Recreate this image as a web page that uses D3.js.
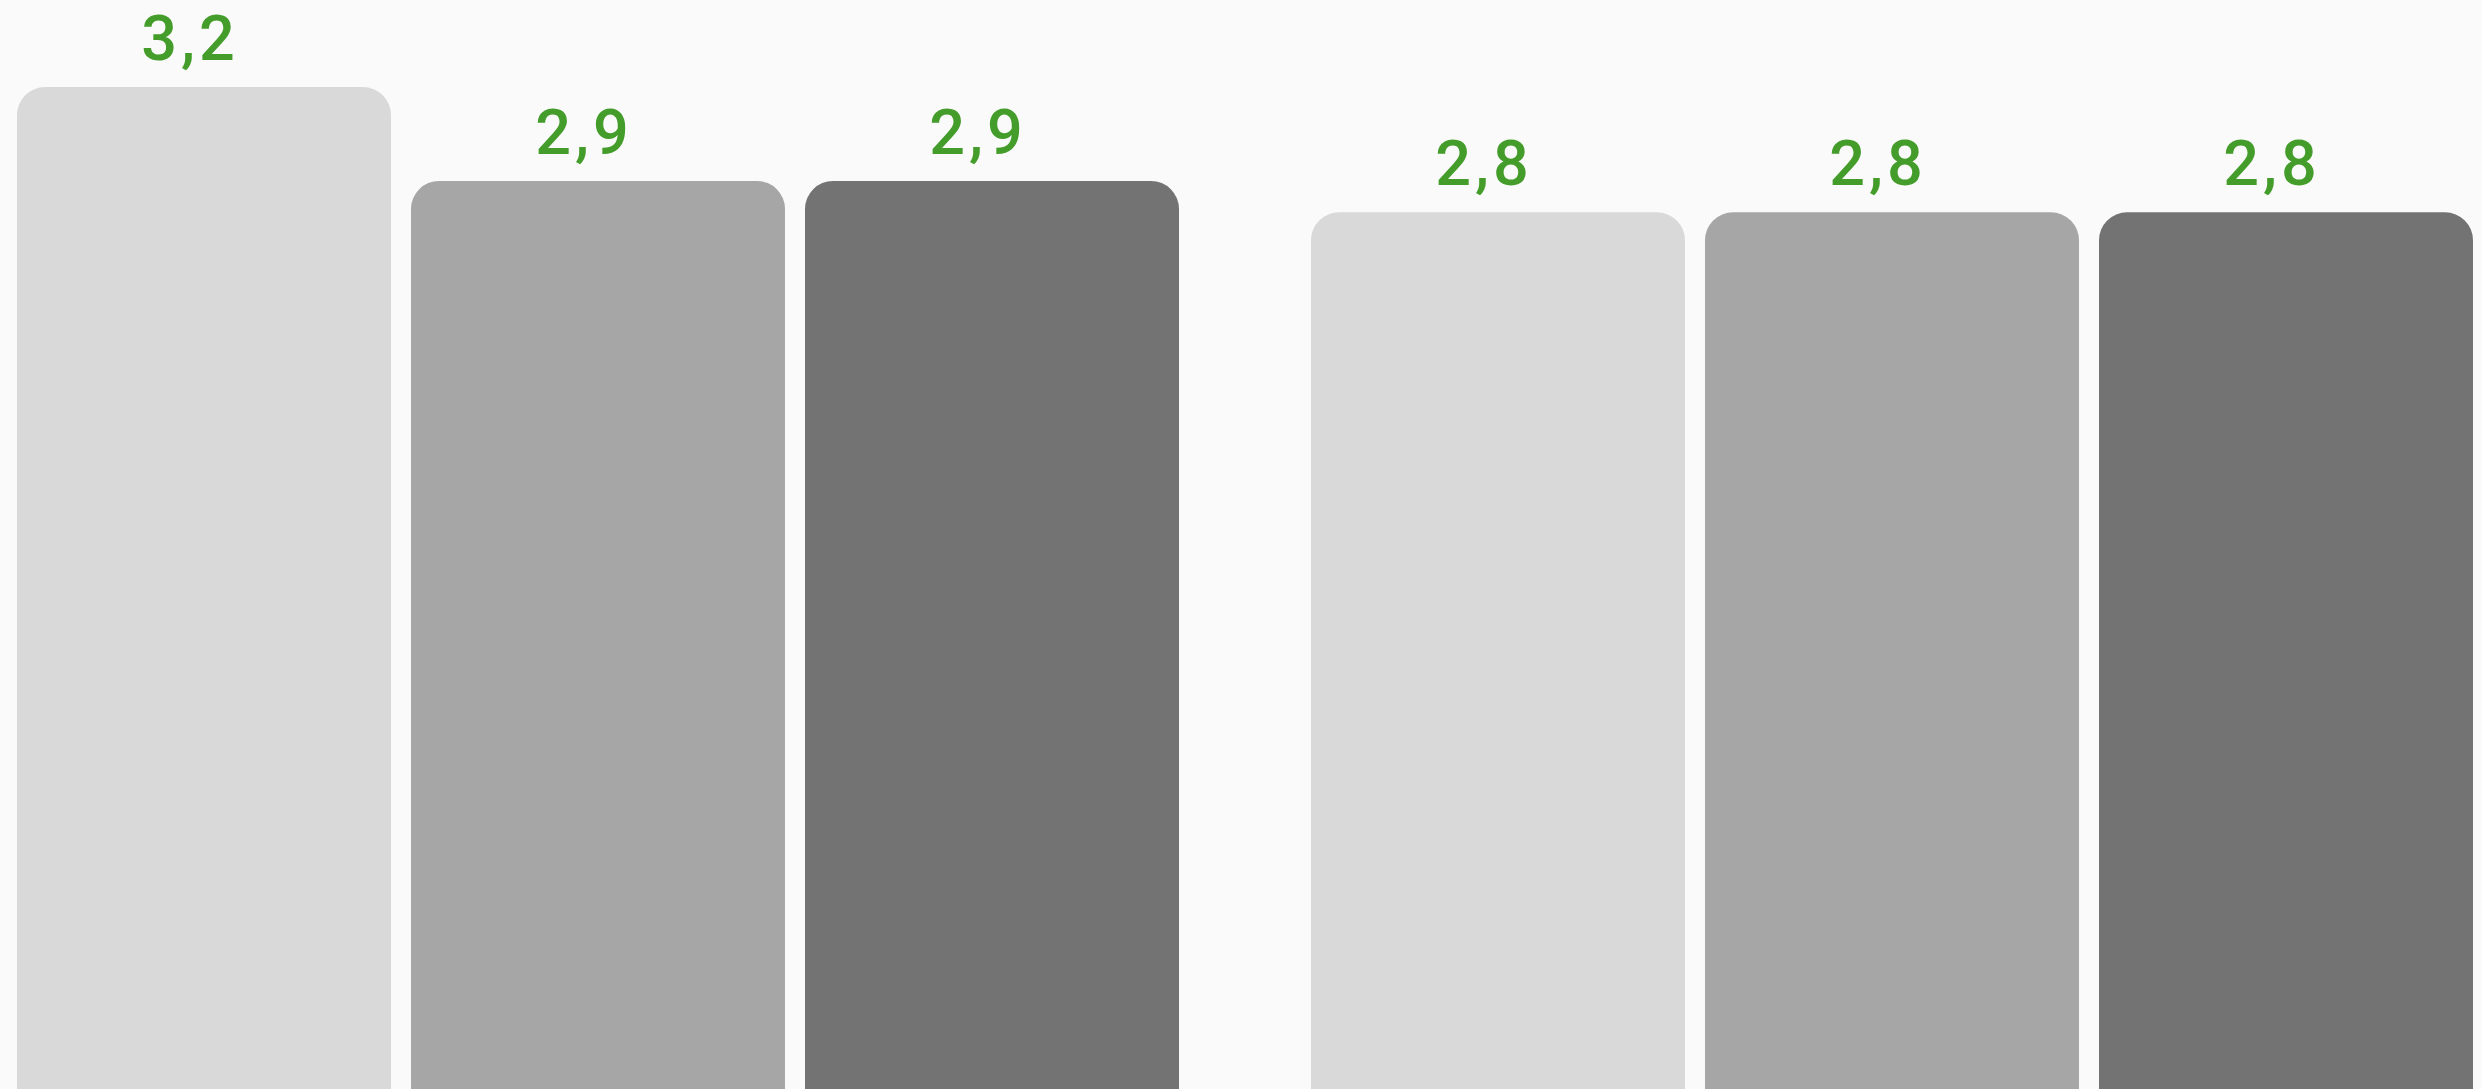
<!DOCTYPE html>
<html>
<head>
<meta charset="utf-8">
<script src="https://cdn.jsdelivr.net/npm/d3@7"></script>
<style>
  html, body { margin: 0; padding: 0; background: #fafafa; overflow: hidden; }
  svg { display: block; }
</style>
</head>
<body>
<svg id="chart" width="2482" height="1089"></svg>
<script>
const groups = ["A", "B"];
const series = ["s1", "s2", "s3"];
const values = [
  [3.2, 2.9, 2.9],
  [2.8, 2.8, 2.8]
];
const seriesColors = ["#d9d9d9", "#a6a6a6", "#737373"];
const labelColor = "#449d2b";

const W = 2482, H = 1089;
const svg = d3.select("#chart");
svg.append("rect").attr("width", W).attr("height", H).attr("fill", "#fafafa");

const x0 = d3.scaleBand().domain(groups).range([17, 2473]).paddingInner(0.102).paddingOuter(0);
const x1 = d3.scaleBand().domain(series).range([0, x0.bandwidth()]).paddingInner(0.0508).paddingOuter(0);
const y = d3.scaleLinear().domain([0, 3.2]).range([H, 87]);

const r = 28;
function topRounded(x, yTop, w, yBot) {
  const p = d3.path();
  p.moveTo(x, yBot + r);
  p.lineTo(x, yTop + r);
  p.arcTo(x, yTop, x + r, yTop, r);
  p.lineTo(x + w - r, yTop);
  p.arcTo(x + w, yTop, x + w, yTop + r, r);
  p.lineTo(x + w, yBot + r);
  p.closePath();
  return p.toString();
}

const data = [];
groups.forEach((g, gi) => series.forEach((s, si) => data.push({ g, s, si, v: values[gi][si] })));

const gSel = svg.append("g");
gSel.selectAll("path.bar").data(data).join("path")
  .attr("class", "bar")
  .attr("fill", d => seriesColors[d.si])
  .attr("d", d => topRounded(x0(d.g) + x1(d.s), y(d.v), x1.bandwidth(), y(0)));

const fmt = v => d3.format(".1f")(v).replace(".", ",");
gSel.selectAll("text.lbl").data(data).join("text")
  .attr("class", "lbl")
  .attr("x", d => x0(d.g) + x1(d.s) + x1.bandwidth() / 2 - 14)
  .attr("y", d => y(d.v) - 27)
  .attr("text-anchor", "middle")
  .attr("fill", labelColor)
  .attr("font-family", "Roboto, 'Open Sans', sans-serif")
  .attr("font-weight", 500)
  .attr("font-size", 63)
  .attr("letter-spacing", 4)
  .text(d => fmt(d.v));
</script>
</body>
</html>
